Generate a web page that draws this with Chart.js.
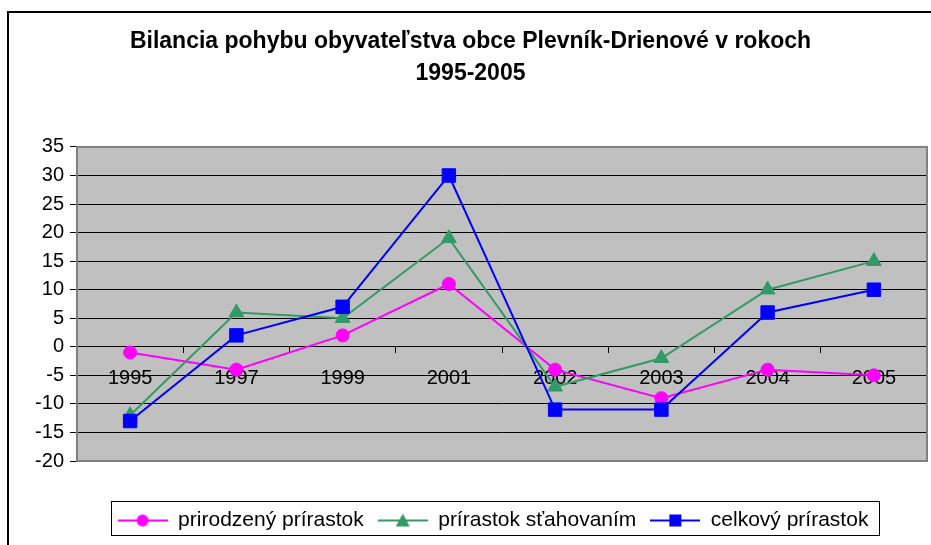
<!DOCTYPE html>
<html>
<head>
<meta charset="utf-8">
<script src="https://cdn.jsdelivr.net/npm/chart.js@4"></script>
<style>
html, body { margin: 0; padding: 0; background: #fff; }
#chart { display: block; }
</style>
</head>
<body>
<canvas id="chart" width="931" height="545"></canvas>
<script>
// Data
const years = ['1995', '1997', '1999', '2001', '2002', '2003', '2004', '2005'];
const natural = [-1, -4, 2, 11, -4, -9, -4, -5];
const migration = [-12, 6, 5, 19, -7, -2, 10, 15];
const total = [-13, 2, 7, 30, -11, -11, 6, 10];
const seriesNames = ['prirodzený prírastok', 'prírastok sťahovaním', 'celkový prírastok'];
const seriesColors = ['#ff00ff', '#339966', '#0000ff'];
const seriesMarkers = ['circle', 'triangle', 'rect'];
const markerSizes = [6.5, 8.5, 9.5];
const yMin = -20, yMax = 35, yStep = 5;
const titleLines = ['Bilancia pohybu obyvateľstva obce Plevník-Drienové v rokoch', '1995-2005'];

const FONT = "'Liberation Sans', Arial, sans-serif";

// small canvas with line + marker for the legend
function legendMarker(color, marker) {
    const c = document.createElement('canvas');
    c.width = 50;
    c.height = 18;
    const ctx = c.getContext('2d');
    ctx.strokeStyle = color;
    ctx.fillStyle = color;
    ctx.lineWidth = 2;
    ctx.beginPath();
    ctx.moveTo(0, 9);
    ctx.lineTo(50, 9);
    ctx.stroke();
    ctx.beginPath();
    if (marker === 'circle') {
        ctx.arc(25, 9, 6, 0, Math.PI * 2);
    } else if (marker === 'triangle') {
        ctx.moveTo(25, 2);
        ctx.lineTo(32, 15);
        ctx.lineTo(18, 15);
        ctx.closePath();
    } else {
        ctx.rect(19, 3, 12, 12);
    }
    ctx.fill();
    return c;
}
const legendIcons = seriesColors.map((col, i) => legendMarker(col, seriesMarkers[i]));

// frame, plot background and borders
const framePlugin = {
    id: 'framePlugin',
    beforeDraw(chart) {
        const ctx = chart.ctx;
        const a = chart.chartArea;
        ctx.save();
        ctx.fillStyle = '#fff';
        ctx.fillRect(0, 0, chart.width, chart.height);
        ctx.strokeStyle = '#000';
        ctx.lineWidth = 2;
        ctx.strokeRect(8, 12, chart.width + 20, chart.height + 20);
        ctx.fillStyle = '#c0c0c0';
        ctx.fillRect(a.left, a.top, a.right - a.left, a.bottom - a.top);
        ctx.restore();
    },
    beforeDatasetsDraw(chart) {
        const ctx = chart.ctx;
        const a = chart.chartArea;
        ctx.save();
        ctx.strokeStyle = '#808080';
        ctx.lineWidth = 2;
        ctx.strokeRect(a.left, a.top, a.right - a.left, a.bottom - a.top);
        ctx.restore();
    },
    afterLayout(chart) {
        // center the legend under the plot area like the original
        const lg = chart.legend;
        const want = (chart.chartArea.left + chart.chartArea.right) / 2 - 9;
        const shift = want - (lg.left + lg.right) / 2;
        lg.left += shift;
        lg.right += shift;
    },
    afterDraw(chart) {
        // box round the legend
        const lg = chart.legend;
        const pad = lg.options.labels.padding;
        const w = lg.lineWidths[0];
        const startX = (lg.left + pad + lg.right - w) / 2;
        const ctx = chart.ctx;
        ctx.save();
        ctx.strokeStyle = '#000';
        ctx.lineWidth = 1;
        ctx.strokeRect(Math.round(startX - 7) + 0.5, 501.5, Math.round(w - pad + 17), 34);
        ctx.restore();
    }
};

const datasets = [natural, migration, total].map((values, i) => ({
    label: seriesNames[i],
    data: values,
    borderColor: seriesColors[i],
    backgroundColor: seriesColors[i],
    borderWidth: 2,
    pointStyle: seriesMarkers[i],
    pointRadius: markerSizes[i],
    pointHoverRadius: markerSizes[i],
    pointBorderWidth: 1,
    pointBackgroundColor: seriesColors[i],
    pointBorderColor: seriesColors[i],
    tension: 0,
    order: 3 - i
}));

new Chart(document.getElementById('chart'), {
    type: 'line',
    data: { labels: years, datasets: datasets },
    options: {
        responsive: false,
        animation: false,
        layout: { autoPadding: false, padding: { left: 14, right: 4, top: 0, bottom: 4 } },
        plugins: {
            title: {
                display: true,
                text: titleLines,
                color: '#000',
                font: { family: FONT, size: 23, weight: 'bold', lineHeight: 1.39 },
                padding: { top: 26, bottom: 57 }
            },
            legend: {
                position: 'bottom',
                title: { display: true, text: '', font: { size: 1, lineHeight: 1 }, padding: { top: 34, bottom: 0 } },
                labels: {
                    color: '#000',
                    font: { family: FONT, size: 21 },
                    usePointStyle: true,
                    pointStyleWidth: 50,
                    padding: 14,
                    generateLabels(chart) {
                        const items = Chart.defaults.plugins.legend.labels.generateLabels(chart);
                        items.sort((a, b) => a.datasetIndex - b.datasetIndex);
                        items.forEach(it => { it.pointStyle = legendIcons[it.datasetIndex]; });
                        return items;
                    }
                }
            },
            tooltip: { enabled: false }
        },
        scales: {
            x: {
                position: { y: 0 },
                offset: true,
                afterFit(scale) { scale.paddingLeft = 0; scale.paddingRight = 0; },
                grid: { offset: true, drawOnChartArea: false, drawTicks: true, tickLength: 6, color: '#000' },
                border: { display: true, color: '#000', width: 1 },
                ticks: { color: '#000', font: { family: FONT, size: 20 }, padding: 14, maxRotation: 0, autoSkip: false }
            },
            y: {
                min: yMin,
                max: yMax,
                afterFit(scale) { scale.width = 63; },
                grid: { color: '#000', lineWidth: 1, tickLength: 7, drawTicks: true },
                border: { display: true, color: '#808080', width: 2 },
                ticks: { stepSize: yStep, color: '#000', font: { family: FONT, size: 20 }, padding: 6 }
            }
        }
    },
    plugins: [framePlugin]
});
</script>
</body>
</html>
